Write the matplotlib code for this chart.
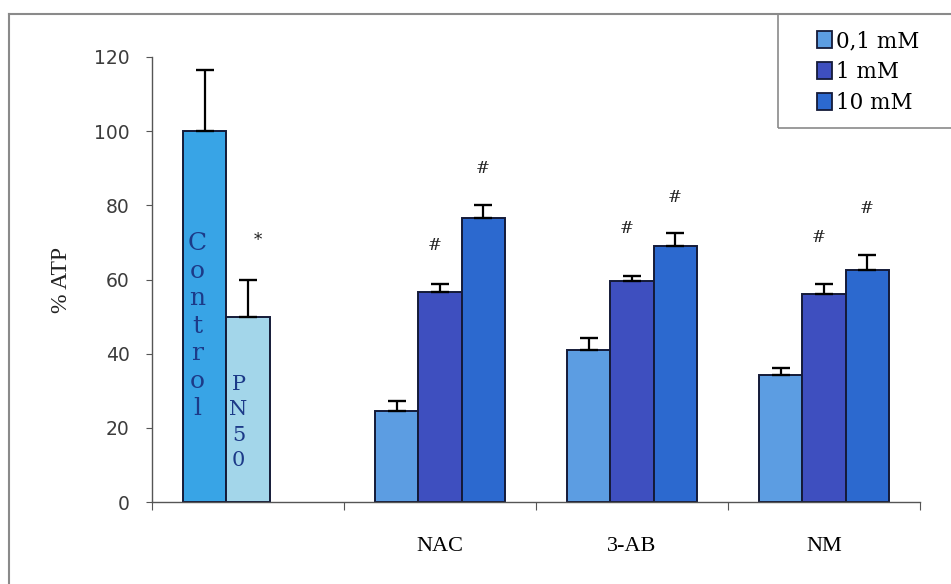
import numpy as np
import matplotlib.pyplot as plt
from matplotlib.patches import Rectangle
from matplotlib.lines import Line2D

groups = ["", "NAC", "3-AB", "NM"]
doses = ["0,1 mM", "1 mM", "10 mM"]

control_val, control_err = 100, 16.5
pn50_val, pn50_err = 50, 10

low = [24.5, 41.0, 34.2]
low_err = [2.7, 3.2, 1.9]
mid = [56.6, 59.6, 56.0]
mid_err = [2.2, 1.4, 2.8]
high = [76.5, 69.0, 62.5]
high_err = [3.5, 3.5, 4.1]

star_y = 70.6
hash_mid_y = [69.3, 73.8, 71.2]
hash_high_y = [90.0, 82.2, 79.2]

c_control = "#38a4e6"
c_pn50 = "#a3d6ea"
c_low = "#5c9de2"
c_mid = "#3e4fbf"
c_high = "#2c69cf"
edge = "#141a38"
text_blue = "#1c3a88"

fig = plt.figure(figsize=(9.51, 5.84), dpi=100)
ax = fig.add_axes([152 / 951, 1 - 502 / 584, 768 / 951, 445 / 584])

w = 0.224
x = np.arange(1, 4)
err_kw = dict(ecolor="black", elinewidth=1.6, capsize=6.5, capthick=1.7)

ax.bar(0 - w, control_val, w, color=c_control, edgecolor=edge, linewidth=1.4,
       yerr=[[0], [control_err]], error_kw=err_kw)
ax.bar(0, pn50_val, w, color=c_pn50, edgecolor=edge, linewidth=1.4,
       yerr=[[0], [pn50_err]], error_kw=err_kw)

series = [(low, low_err, c_low), (mid, mid_err, c_mid), (high, high_err, c_high)]
for i, (vals, errs, col) in enumerate(series):
    ax.bar(x + (i - 1) * w, vals, w, color=col, edgecolor=edge, linewidth=1.4,
           yerr=[np.zeros(3), errs], error_kw=err_kw)

# significance marks
ax.text(0.05, star_y, "*", ha="center", va="center", fontsize=12,
        family="DejaVu Serif", color="#222222")
for xi, ym, yh in zip(x, hash_mid_y, hash_high_y):
    ax.text(xi - 0.03, ym, "#", ha="center", va="center", fontsize=12,
            family="DejaVu Serif", color="#222222")
    ax.text(xi + w, yh, "#", ha="center", va="center", fontsize=12,
            family="DejaVu Serif", color="#222222")

# labels written down inside the first two bars
ax.text(0 - w - 0.04, 72.8, "\n".join("Control"), ha="center", va="top",
        fontsize=18, family="DejaVu Serif", color=text_blue, linespacing=1.25)
ax.text(-0.05, 34.2, "\n".join("PN50"), ha="center", va="top",
        fontsize=15, family="DejaVu Serif", color=text_blue, linespacing=1.42)

ax.set_xlim(-0.5, 3.5)
ax.set_ylim(0, 120)
ax.set_yticks(np.arange(0, 121, 20))
ax.set_xticks(np.arange(-0.5, 3.6, 1))
ax.set_xticklabels([])
ax.set_xticks(np.arange(0, 4), minor=True)
ax.set_xticklabels(groups, minor=True, family="Liberation Serif", fontsize=16)
ax.tick_params(axis="x", which="minor", length=0, pad=25)
ax.tick_params(axis="x", which="major", length=6, color="#555555")
ax.tick_params(axis="y", length=4, color="#555555", pad=12, labelsize=13.5,
               labelcolor="#3c3c3c")
for lab in ax.get_yticklabels():
    lab.set_family("DejaVu Sans")

for s in ["top", "right"]:
    ax.spines[s].set_visible(False)
for s in ["left", "bottom"]:
    ax.spines[s].set_color("#555555")
    ax.spines[s].set_linewidth(1.0)

ax.set_ylabel("% ATP", family="Liberation Serif", fontsize=17, color="#222222",
              labelpad=16)

# outer frame and legend box
fig.add_artist(Line2D([9 / 951, 9 / 951], [0, 1 - 14 / 584], color="#8a8a8a",
                      linewidth=1.5, transform=fig.transFigure))
fig.add_artist(Line2D([9 / 951, 1], [1 - 14 / 584, 1 - 14 / 584], color="#8a8a8a",
                      linewidth=1.5, transform=fig.transFigure))
fig.add_artist(Rectangle((778 / 951, 1 - 128 / 584), 200 / 951, 114 / 584,
                         fill=False, edgecolor="#8a8a8a", linewidth=1.2,
                         transform=fig.transFigure))

handles = [Rectangle((0, 0), 1, 1, facecolor=c, edgecolor=edge, linewidth=1.3)
           for c in (c_low, c_mid, c_high)]
fig.legend(handles, doses, loc="upper left", bbox_to_anchor=(817 / 951, 1 - 30 / 584),
           frameon=False, prop={"family": "DejaVu Serif", "size": 15.5},
           handlelength=0.7, handleheight=0.85, handletextpad=0.2,
           labelspacing=0.42, borderpad=0, borderaxespad=0)

fig.savefig("out.png", dpi=100)
